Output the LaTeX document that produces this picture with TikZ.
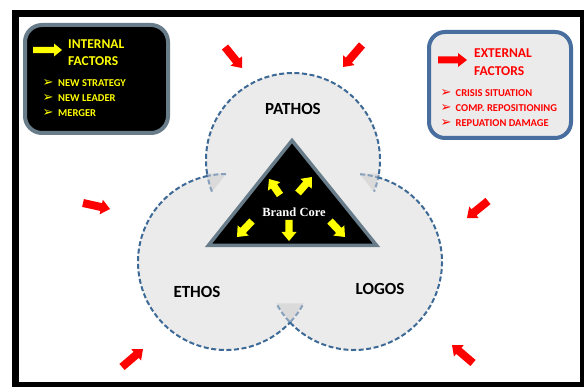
\documentclass[tikz,border=0pt]{standalone}
\usepackage{fontspec}
\setmainfont{Carlito}
\newfontfamily\corefont{Liberation Serif}
\newfontfamily\symfont{DejaVu Sans}
\usetikzlibrary{calc}

\definecolor{arcblue}{RGB}{60,105,150}
\definecolor{arcpale}{RGB}{135,160,188}
\definecolor{slate}{RGB}{104,124,138}
\definecolor{boxblue}{RGB}{71,110,158}
\definecolor{lightfill}{RGB}{235,235,235}
\definecolor{overlapgray}{RGB}{218,218,218}
\definecolor{ylw}{RGB}{255,255,0}
\definecolor{rd}{RGB}{255,0,0}

% block arrow: #1 colour, #2 tail, #3 tip, #4 half shaft, #5 half head, #6 head length
\newcommand\blockarrow[6]{%
  \coordinate (neck) at ($(#3)!#6!(#2)$);
  \fill[#1] ($(#2)!#4!90:(#3)$) -- ($(neck)!#4!90:(#3)$) -- ($(neck)!#5!90:(#3)$)
    -- (#3) -- ($(neck)!#5!-90:(#3)$) -- ($(neck)!#4!-90:(#3)$)
    -- ($(#2)!#4!-90:(#3)$) -- cycle;}

% dashed arc piece: #1 style, #2 centre, #3 radius, #4 start, #5 end
\newcommand\arcpiece[5]{%
  \draw[#1] ($(#2)+(#4:#3)$) arc[start angle=#4, end angle=#5, radius=#3];}

\tikzset{
  arcline/.style={draw=arcblue, line width=2pt, dash pattern=on 5pt off 2.6pt},
  arcend/.style={arcline, draw=arcpale},
  circlabel/.style={font=\fontsize{17}{17}\selectfont\bfseries, inner sep=0pt},
  boxhead/.style={font=\fontsize{13.5}{13.5}\selectfont\bfseries, inner sep=0pt, anchor=west},
  boxitem/.style={font=\fontsize{10.5}{10.5}\selectfont\bfseries, inner sep=0pt, anchor=west},
  bul/.style={font=\symfont\fontsize{13}{13}\selectfont, inner sep=0pt},
}

\begin{document}
\begin{tikzpicture}[x=1pt,y=-1pt]
\useasboundingbox (0,0) rectangle (584,387);
% page and frame
\fill[white] (0,0) rectangle (584,387);
\fill[black] (12,10) rectangle (590,395);
\fill[white] (19,17) rectangle (580,382);

% circle centres
\coordinate (pc) at (293,160);
\coordinate (ec) at (226,262);
\coordinate (lc) at (354,262);

% shaded union of the three circles
\fill[lightfill] (pc) circle[radius=87];
\fill[lightfill] (ec) circle[radius=88];
\fill[lightfill] (lc) circle[radius=88];

% overlaps where the arc ends cross
\fill[overlapgray] (206,173.5) -- (226,174) -- (212,192) -- cycle;
\fill[overlapgray] (379,173.5) -- (360,174) -- (374,192) -- cycle;
\fill[overlapgray] (290,322) -- (303.5,303.5) -- (276.5,303.5) -- cycle;

% dashed open arcs, their hidden ends drawn paler
\arcpiece{arcline}{pc}{87}{170.8}{370}
\arcpiece{arcend}{pc}{87}{158.7}{170.8}
\arcpiece{arcend}{pc}{87}{370}{381.3}
\arcpiece{arcline}{ec}{88}{258}{42.7}
\arcpiece{arcend}{ec}{88}{270}{258}
\arcpiece{arcend}{ec}{88}{42.7}{28}
\arcpiece{arcline}{lc}{88}{285.4}{497.3}
\arcpiece{arcend}{lc}{88}{274}{285.4}
\arcpiece{arcend}{lc}{88}{497.3}{512}

% circle labels
\node[circlabel] (pathos) at (293,109) {PATHOS};
\node[circlabel] (ethos) at (197,292) {ETHOS};
\node[circlabel] (logos) at (380,289) {LOGOS};

% brand core triangle
\draw[slate, line width=3.5pt, fill=black, line join=miter]
  (292,140.5) -- (208.5,245.3) -- (376.5,245.3) -- cycle;
\node[font=\corefont\fontsize{12.5}{12.5}\selectfont\bfseries, text=white, inner sep=0pt] (core) at (294,212) {Brand Core};

% yellow arrows radiating from the core
\coordinate (y1t) at (280,195); \coordinate (y1h) at (269,179);
\coordinate (y2t) at (298,193); \coordinate (y2h) at (312,177);
\coordinate (y3t) at (252,221); \coordinate (y3h) at (237,237);
\coordinate (y4t) at (289,220); \coordinate (y4h) at (289,241);
\coordinate (y5t) at (330,221); \coordinate (y5h) at (345,237);
\blockarrow{ylw}{y1t}{y1h}{3.7pt}{7.5pt}{9pt}
\blockarrow{ylw}{y2t}{y2h}{3.7pt}{7.5pt}{9pt}
\blockarrow{ylw}{y3t}{y3h}{3.7pt}{7.5pt}{9pt}
\blockarrow{ylw}{y4t}{y4h}{3.7pt}{7.5pt}{9pt}
\blockarrow{ylw}{y5t}{y5h}{3.7pt}{7.5pt}{9pt}

% red arrows pointing inwards
\coordinate (r1t) at (225,47);  \coordinate (r1h) at (242,68);
\coordinate (r2t) at (362,45);  \coordinate (r2h) at (343,67);
\coordinate (r3t) at (83,203);  \coordinate (r3h) at (110,209);
\coordinate (r4t) at (488,201); \coordinate (r4h) at (467,218);
\coordinate (r5t) at (122,367); \coordinate (r5h) at (143,349);
\coordinate (r6t) at (473,363); \coordinate (r6h) at (452,345);
\blockarrow{rd}{r1t}{r1h}{4pt}{7.5pt}{9pt}
\blockarrow{rd}{r2t}{r2h}{4pt}{7.5pt}{9pt}
\blockarrow{rd}{r3t}{r3h}{4pt}{7.5pt}{9pt}
\blockarrow{rd}{r4t}{r4h}{4pt}{7.5pt}{9pt}
\blockarrow{rd}{r5t}{r5h}{4pt}{7.5pt}{9pt}
\blockarrow{rd}{r6t}{r6h}{4pt}{7.5pt}{9pt}

% internal factors box
\draw[slate, line width=4pt, fill=black, rounded corners=17pt] (25,25) rectangle (168,133);
\coordinate (iat) at (33,50); \coordinate (iah) at (62,50);
\blockarrow{ylw}{iat}{iah}{3.2pt}{6.5pt}{8pt}
\node[boxhead, text=ylw] (int1) at (68,44) {INTERNAL};
\node[boxhead, text=ylw] (int2) at (68,61.5) {FACTORS};
\foreach \y/\t [count=\i] in {83/NEW STRATEGY, 98/NEW LEADER, 113/MERGER}{
  \node[bul, text=ylw] (ib\i) at (48,\y) {➢};
  \node[boxitem, text=ylw] (it\i) at (58,\y) {\t};
}

% external factors box
\draw[boxblue, line width=4pt, fill=lightfill, rounded corners=16pt] (429,32) rectangle (571,138);
\coordinate (eat) at (438,60); \coordinate (eah) at (467,60);
\blockarrow{rd}{eat}{eah}{3.5pt}{7pt}{9pt}
\node[boxhead, text=rd] (ext1) at (474,53) {EXTERNAL};
\node[boxhead, text=rd] (ext2) at (474,71) {FACTORS};
\foreach \y/\t [count=\i] in {93/CRISIS SITUATION, 108/COMP. REPOSITIONING, 123/REPUATION DAMAGE}{
  \node[bul, text=rd] (eb\i) at (446,\y) {➢};
  \node[boxitem, text=rd] (et\i) at (455.5,\y) {\t};
}
\end{tikzpicture}
\end{document}
